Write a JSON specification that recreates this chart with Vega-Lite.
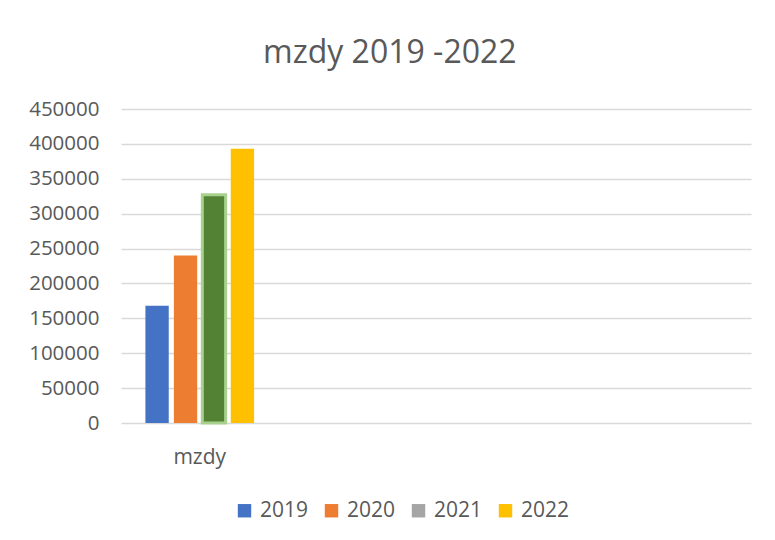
{
  "$schema": "https://vega.github.io/schema/vega-lite/v6.json",
  "width": 630,
  "height": 314,
  "autosize": {"type": "none"},
  "padding": {"left": 121, "top": 109, "right": 24, "bottom": 117},
  "background": "white",
  "title": {
    "text": "mzdy 2019 -2022",
    "font": "Open Sans",
    "fontSize": 32,
    "fontWeight": "normal",
    "color": "#595959",
    "anchor": "middle",
    "frame": "bounds",
    "offset": 29
  },
  "data": {
    "values": [
      {"kategorie": "mzdy", "rok": "2019", "hodnota": 168000},
      {"kategorie": "mzdy", "rok": "2020", "hodnota": 240000},
      {"kategorie": "mzdy", "rok": "2021", "hodnota": 327000},
      {"kategorie": "mzdy", "rok": "2022", "hodnota": 393000}
    ]
  },
  "encoding": {
    "x": {
      "field": "kategorie",
      "type": "nominal",
      "scale": {"domain": ["mzdy", "k2", "k3", "k4"], "paddingInner": 0.31, "paddingOuter": 0.155},
      "axis": {
        "title": null,
        "labelAngle": 0,
        "labelExpr": "datum.value == 'mzdy' ? 'mzdy' : ''",
        "domain": false,
        "ticks": false,
        "labelFont": "Open Sans",
        "labelFontSize": 21,
        "labelColor": "#595959",
        "labelPadding": 23
      }
    },
    "xOffset": {
      "field": "rok",
      "type": "nominal",
      "scale": {"paddingInner": 0.18, "paddingOuter": 0}
    },
    "y": {
      "field": "hodnota",
      "type": "quantitative",
      "scale": {"domain": [0, 450000], "nice": false},
      "axis": {
        "title": null,
        "values": [0, 50000, 100000, 150000, 200000, 250000, 300000, 350000, 400000, 450000],
        "format": "d",
        "domain": false,
        "ticks": false,
        "grid": true,
        "gridColor": "#D9D9D9",
        "gridWidth": 1.5,
        "labelFont": "Open Sans",
        "labelFontSize": 20.5,
        "labelColor": "#595959",
        "labelPadding": 22
      }
    }
  },
  "layer": [
    {
      "mark": {"type": "bar"},
      "encoding": {
        "color": {
          "field": "rok",
          "type": "nominal",
          "scale": {"domain": ["2019", "2020", "2021", "2022"], "range": ["#4472C4", "#ED7D31", "#A5A5A5", "#FFC000"]},
          "legend": {
            "title": null,
            "orient": "none",
            "legendX": 113,
            "legendY": 391,
            "direction": "horizontal",
            "symbolType": "square",
            "symbolSize": 180,
            "symbolStrokeWidth": 0,
            "labelFont": "Open Sans",
            "labelFontSize": 21,
            "labelColor": "#595959",
            "columnPadding": 12,
            "labelOffset": 5
          }
        }
      }
    },
    {
      "transform": [{"filter": "datum.rok == '2021'"}],
      "mark": {"type": "bar", "fill": "#548235", "stroke": "#A9D18E", "strokeWidth": 3}
    }
  ],
  "config": {
    "view": {"stroke": null}
  }
}
